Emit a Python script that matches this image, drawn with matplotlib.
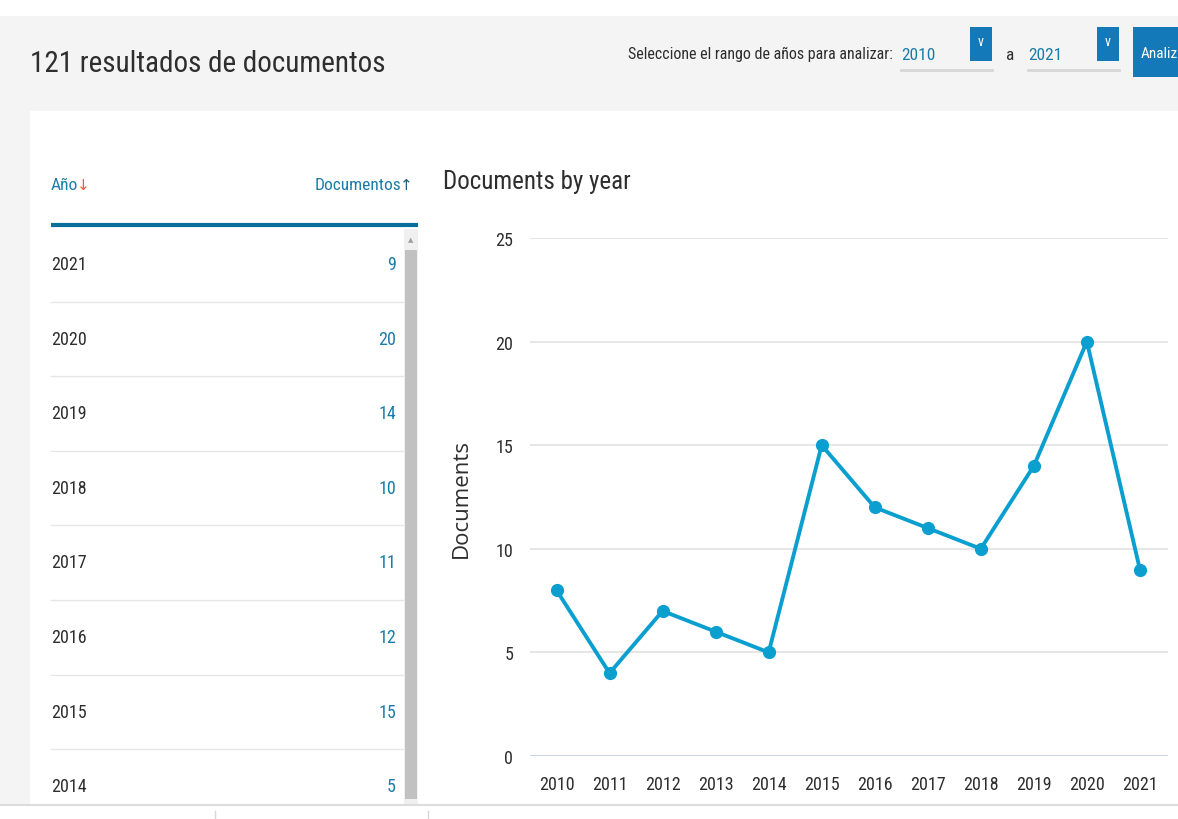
import matplotlib
matplotlib.use("Agg")
import matplotlib.pyplot as plt
from matplotlib import font_manager
from matplotlib.patches import Rectangle

# datos
years = [2010, 2011, 2012, 2013, 2014, 2015, 2016, 2017, 2018, 2019, 2020, 2021]
docs = [8, 4, 7, 6, 5, 15, 12, 11, 10, 14, 20, 9]
table_years = [2021, 2020, 2019, 2018, 2017, 2016, 2015, 2014]
y_ticks = [0, 5, 10, 15, 20, 25]

nombres = {f.name for f in font_manager.fontManager.ttflist}
NARROW = 'DejaVu Sans'
for fam in ['Roboto Condensed', 'PT Sans Narrow', 'Archivo Narrow', 'Liberation Sans']:
    if fam in nombres:
        NARROW = fam
        break

GRIS = '#f4f4f4'
AZUL = '#1a7ca8'
LINEA = '#0b9fd0'
TEXTO = '#2e2e2e'

W, H = 1178, 820
fig = plt.figure(figsize=(W / 100, H / 100), dpi=100)

# fondo de la pagina en coordenadas de pixel
bg = fig.add_axes([0, 0, 1, 1])
bg.set_xlim(0, W)
bg.set_ylim(H, 0)
bg.axis('off')
bg.add_patch(Rectangle((0, 17), W, 788, color=GRIS, lw=0))
bg.add_patch(Rectangle((30, 112), W - 30, 693, color='white', lw=0))
bg.plot([0, W], [806, 806], color='#dcdcdc', lw=1.5)
for xm in [215, 428]:
    bg.plot([xm, xm], [812, 820], color='#d8d8d8', lw=1)

# cabecera
bg.text(30, 64, '121 resultados de documentos', family=NARROW, fontsize=21,
        color=TEXTO, va='center', ha='left')
bg.text(893, 54, 'Seleccione el rango de años para analizar:', family=NARROW,
        fontsize=11.5, color=TEXTO, va='center', ha='right')
for x0, val in [(901, '2010'), (1028, '2021')]:
    bg.text(x0, 55, val, family=NARROW, fontsize=12.5, color=AZUL, va='center')
    bg.plot([x0, x0 + 91], [71, 71], color='#d6d6d6', lw=2)
    bg.add_patch(Rectangle((x0 + 69, 28), 22, 34, color='#1479b8', lw=0))
    bg.text(x0 + 80, 42, 'v', family=NARROW, fontsize=10, color='white',
            va='center', ha='center')
bg.text(1010, 55, 'a', family=NARROW, fontsize=12.5, color=TEXTO, va='center', ha='center')
bg.add_patch(Rectangle((1133, 28), 50, 50, color='#1479b8', lw=0))
bg.text(1141, 54, 'Analiz', family=NARROW, fontsize=11, color='white', va='center')

# tabla
t_ano = bg.text(51, 186, 'Año', family=NARROW, fontsize=12.5, color=AZUL, va='center')
bg.annotate('↓', xy=(1, 0.5), xycoords=t_ano, xytext=(-1, 0), textcoords='offset points',
            family='DejaVu Sans', fontsize=11, color='#e8602c', va='center', ha='left')
t_up = bg.text(413, 186, '↑', family='DejaVu Sans', fontsize=11, color='#1a5f80',
               va='center', ha='right')
bg.annotate('Documentos', xy=(0, 0.5), xycoords=t_up, xytext=(1, 0),
            textcoords='offset points', family=NARROW, fontsize=12.5, color=AZUL,
            va='center', ha='right')
bg.plot([51, 418], [226, 226], color='#0a6e9c', lw=3, solid_capstyle='butt')
bg.add_patch(Rectangle((404, 230), 14, 575, color='#f0f0f0', lw=0))
bg.add_patch(Rectangle((405, 251), 12, 549, color='#c1c1c1', lw=0))
bg.text(411, 240, '▲', family='DejaVu Sans', fontsize=5, color='#a0a0a0',
        va='center', ha='center')

conteo = dict(zip(years, docs))
for i, a in enumerate(table_years):
    yc = 265 + i * 74.6
    bg.text(51, yc, str(a), family=NARROW, fontsize=13, color=TEXTO, va='center')
    bg.text(396, yc, str(conteo[a]), family=NARROW, fontsize=13, color=AZUL,
            va='center', ha='right')
    if i < len(table_years) - 1:
        bg.plot([51, 404], [yc + 37.5, yc + 37.5], color='#e6e6e6', lw=1)

# grafica
bg.text(443, 182, 'Documents by year', family=NARROW, fontsize=18, color=TEXTO,
        va='center')
ax = fig.add_axes([530 / W, (H - 757) / H, (1168 - 530) / W, (757 - 239) / H])
ax.plot(years, docs, color=LINEA, lw=2.8, marker='o', ms=8.5, zorder=3)
ax.set_xlim(2009.5, 2021.53)
ax.set_ylim(0, 25)
ax.set_yticks(y_ticks)
ax.set_xticks(years)
ax.grid(axis='y', color='#e2e2e2', lw=1.2)
ax.axhline(0, color='#ccd6eb', lw=1.5, zorder=2)
for s in ax.spines.values():
    s.set_visible(False)
ax.tick_params(length=0, labelsize=13, labelcolor=TEXTO, pad=14)
ax.tick_params(axis='y', pad=12)
for lab in ax.get_xticklabels() + ax.get_yticklabels():
    lab.set_family(NARROW)
ax.set_facecolor('none')
fig.text(461 / W, 1 - 498 / H, 'Documents', rotation=90, fontsize=16,
         family='Open Sans', color=TEXTO, va='center', ha='center')

fig.savefig('out.png', dpi=100)
